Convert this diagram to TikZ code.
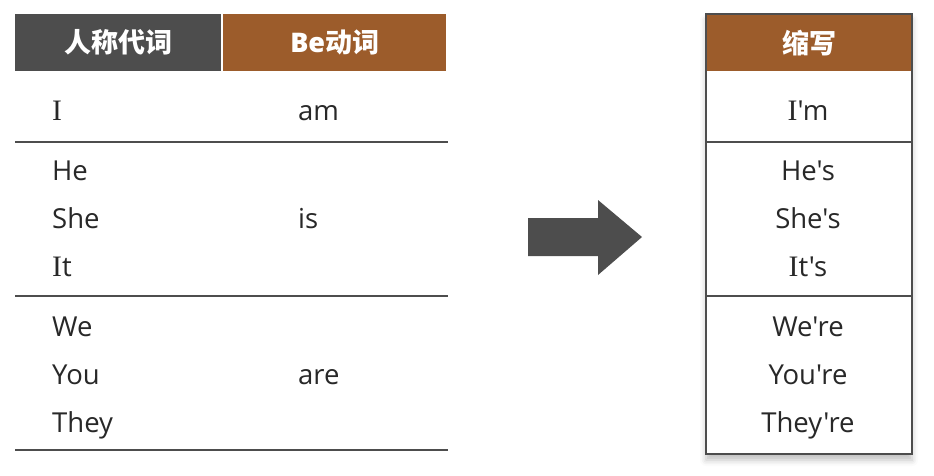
\documentclass[tikz,border=0pt]{standalone}
\usepackage{fontspec}
\setmainfont{Open Sans}[Ligatures=TeXOff]
\newfontfamily\cjk{Noto Sans CJK SC}
\newfontfamily\serifI{Liberation Serif}[Scale=1.08]
\newcommand\Iser{{\serifI I}}
\usetikzlibrary{positioning}
\usetikzlibrary{shadows.blur}
\definecolor{dgray}{RGB}{77,77,77}
\definecolor{brown}{RGB}{156,92,43}
\definecolor{txt}{RGB}{40,40,40}

\begin{document}
\begin{tikzpicture}[x=1pt, y=-1pt, >=latex,
head/.style={fill=#1,minimum height=57pt,inner sep=0pt,text=white,font=\cjk\bfseries\fontsize{27}{27}\selectfont},
word/.style={text=txt,inner sep=0pt,font=\fontsize{27.5}{27.5}\selectfont},
rule/.style={dgray,line width=1.8pt}]
\useasboundingbox (0,0) rectangle (934,475);

% left table
\node [head=dgray,minimum width=206pt,anchor=north west] (hpron) at (15,14) {人称代词};
\node [head=brown,minimum width=223pt,anchor=north west] (hbe) at (223,14) {\fontspec{Open Sans Bold}Be\cjk 动词};

\coordinate (la) at (15,142);
\coordinate (lb) at (448,142);
\coordinate (lc) at (15,296);
\coordinate (ld) at (448,296);
\coordinate (le) at (15,450);
\coordinate (lf) at (448,450);
\draw [rule] (la) -- (lb);
\draw [rule] (lc) -- (ld);
\draw [rule] (le) -- (lf);

\node [word,anchor=base west] (pi) at (52,120) {\Iser};
\node [word,anchor=base west] (phe) at (52,180) {He};
\node [word,anchor=base west] (pshe) at (52,228) {She};
\node [word,anchor=base west] (pit) at (52,276) {\Iser t};
\node [word,anchor=base west] (pwe) at (52,336) {We};
\node [word,anchor=base west] (pyou) at (52,384) {You};
\node [word,anchor=base west] (pthey) at (52,432) {They};

\node [word,anchor=base west] (bam) at (298,120) {am};
\node [word,anchor=base west] (bis) at (298,228) {is};
\node [word,anchor=base west] (bare) at (298,384) {are};

% arrow
\fill [dgray] (528,218) -- (598,218) -- (598,200) -- (642,237) -- (598,275) -- (598,256) -- (528,256) -- cycle;

% right table
\fill [white,blur shadow={shadow xshift=0pt,shadow yshift=-6pt,shadow blur radius=6pt,shadow opacity=25}] (706,14) rectangle (912,454);
\node [head=brown,minimum width=206pt,anchor=north west] (hshort) at (706,14) {缩写};
\coordinate (ra) at (706,142);
\coordinate (rb) at (912,142);
\coordinate (rc) at (706,296);
\coordinate (rd) at (912,296);
\draw [rule] (ra) -- (rb);
\draw [rule] (rc) -- (rd);
\draw [dgray,line width=1.8pt] (706,14) rectangle (912,454);

\node [word,anchor=base] (sim) at (808,120) {\Iser'm};
\node [word,anchor=base] (she) at (808,180) {He's};
\node [word,anchor=base] (sshe) at (808,228) {She's};
\node [word,anchor=base] (sit) at (808,276) {\Iser t's};
\node [word,anchor=base] (swe) at (808,336) {We're};
\node [word,anchor=base] (syou) at (808,384) {You're};
\node [word,anchor=base] (sthey) at (808,432) {They're};
\end{tikzpicture}
\end{document}
